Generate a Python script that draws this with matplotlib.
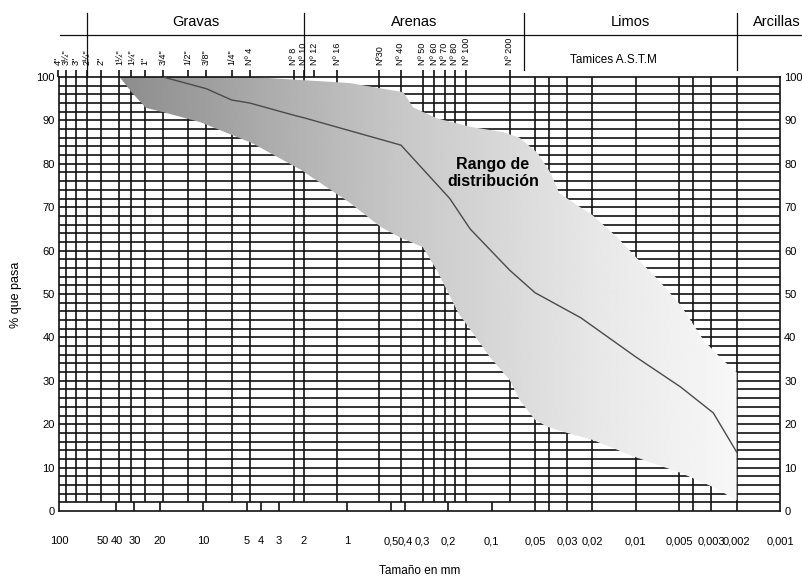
import numpy as np
import matplotlib
matplotlib.use('Agg')
import matplotlib.pyplot as plt
import matplotlib.transforms as mtransforms
from matplotlib.patches import Polygon
from matplotlib.lines import Line2D
from matplotlib.ticker import NullLocator

plt.rcParams['font.family'] = ['Liberation Sans', 'DejaVu Sans']
narrow = ['Liberation Sans Narrow', 'Liberation Sans', 'DejaVu Sans']

# ----------------------------- DATA -----------------------------

# ASTM sieves (mm) and their labels
sieve_mm = [101.6, 88.9, 76.2, 63.5, 50.8, 38.1, 31.75, 25.4, 19.05, 12.7, 9.525, 6.35,
            4.75, 2.36, 2.0, 1.7, 1.18, 0.6, 0.425, 0.3, 0.25, 0.212, 0.18, 0.15, 0.075]
sieve_lbl = ['4"', '3½"', '3"', '2½"', '2"', '1½"', '1¼"', '1"', '3/4"', '1/2"', '3/8"', '1/4"',
             'Nº 4', 'Nº 8', 'Nº 10', 'Nº 12', 'Nº 16', 'Nº30', 'Nº 40', 'Nº 50', 'Nº 60',
             'Nº 70', 'Nº 80', 'Nº 100', 'Nº 200']

# fine fraction grid lines (mm)
fine_mm = [0.05, 0.04, 0.03, 0.02, 0.01, 0.005, 0.004, 0.003, 0.002]

# short ticks in the bottom row (mm)
tick_mm = [40, 30, 20, 10, 5, 4, 3, 1, 0.5, 0.4, 0.2, 0.1]

# bottom axis labels (mm)
xlab_mm = [100, 50, 40, 30, 20, 10, 5, 4, 3, 2, 1, 0.5, 0.4, 0.3, 0.2, 0.1,
           0.05, 0.03, 0.02, 0.01, 0.005, 0.003, 0.002, 0.001]

# soil classes and their limits (mm)
class_names = ['Gravas', 'Arenas', 'Limos']
class_limits = [63.5, 2.0, 0.06, 0.002]

# distribution band, upper limit
upper_mm = [38, 4.6, 2.1, 0.96, 0.41, 0.35, 0.24, 0.14, 0.083, 0.064, 0.048, 0.039,
            0.034, 0.027, 0.020, 0.0135, 0.010, 0.0071, 0.0049, 0.0034, 0.0025, 0.002]
upper_pct = [100, 100, 99.3, 98.6, 96.5, 93, 90.5, 88.5, 87.3, 86, 82.5, 77.9,
             73.3, 71, 68.2, 63.1, 58.5, 53.5, 47.5, 39.4, 34.8, 32]

# distribution band, lower limit
lower_mm = [38, 31, 25, 18, 10.5, 4.6, 2.1, 0.96, 0.59, 0.43, 0.30, 0.24, 0.17, 0.135,
            0.103, 0.075, 0.064, 0.050, 0.041, 0.030, 0.020, 0.010, 0.0049, 0.0029, 0.002]
lower_pct = [100, 96.3, 92.9, 91.7, 89.6, 84.8, 78.6, 71, 65.5, 63, 60.8, 55.5, 45.6, 41,
             35.5, 30.2, 25.6, 21, 19.4, 18, 16.4, 12.4, 8.8, 5.5, 2.5]

# middle curve
center_mm = [19, 9.5, 6.35, 4.75, 2.24, 2.0, 0.425, 0.195, 0.141, 0.075, 0.050, 0.024,
             0.010, 0.0049, 0.0029, 0.002]
center_pct = [100, 97.3, 94.7, 94, 91, 90.6, 84.3, 72, 65, 55.5, 50.3, 44.5,
              35.5, 28.6, 22.6, 13.6]

# ----------------------------- FIGURE -----------------------------

W, H = 803, 579
def fx(px):
    return px / W
def fy(py):
    return 1 - py / H

fig = plt.figure(figsize=(8.03, 5.79), dpi=100)
ax = fig.add_axes([fx(59), fy(511), (780 - 59) / W, (511 - 77) / H])
ax.set_xscale('log')
ax.set_xlim(100, 0.001)
ax.set_ylim(0, 100)
ax.set_autoscale_on(False)

gc = '#111111'
glw = 1.2

# grid
ax.hlines(np.arange(2, 100, 2), 100, 0.001, color=gc, lw=glw, zorder=1)
ax.vlines([s for s, l in zip(sieve_mm, sieve_lbl) if l != 'Nº 12'], 2, 100, color=gc, lw=glw, zorder=1)
ax.vlines(sieve_mm, 100, 101.6, color=gc, lw=glw, zorder=1, clip_on=False)
ax.vlines(fine_mm, 0, 100, color=gc, lw=glw, zorder=1)
ax.vlines(tick_mm, 0, 2, color=gc, lw=glw, zorder=1)

# band with gradient
pts = list(zip(upper_mm, upper_pct)) + list(zip(lower_mm[::-1], lower_pct[::-1]))
poly = Polygon(pts, closed=True, facecolor='none', edgecolor='none', transform=ax.transData)
ax.add_patch(poly)
xs = np.linspace(0, 1, 400)
shade = np.interp(xs, [0.08, 0.2, 0.33, 0.47, 0.6, 0.75, 0.94],
                  [0.55, 0.62, 0.70, 0.78, 0.84, 0.91, 0.97])
img = ax.imshow(shade[None, :], cmap='gray', vmin=0, vmax=1, extent=[0, 1, 0, 1],
                transform=ax.transAxes, aspect='auto', interpolation='bilinear', zorder=2)
img.set_clip_path(poly)
ax.set_xlim(100, 0.001)
ax.set_ylim(0, 100)

ax.plot(center_mm, center_pct, color='#4a4a4a', lw=1.0, zorder=3)

# axes / ticks
for s in ax.spines.values():
    s.set_color(gc)
    s.set_linewidth(glw)
ax.xaxis.set_minor_locator(NullLocator())
ax.set_xticks(xlab_mm)
ax.set_xticklabels([f"{v:g}".replace('.', ',') for v in xlab_mm])
ax.tick_params(axis='x', which='both', length=0, pad=18, labelsize=8)
ax.set_yticks(np.arange(0, 101, 10))
ax.tick_params(axis='y', length=0, pad=3, labelsize=8, labelright=True)
for t in ax.get_xticklabels() + ax.get_yticklabels():
    t.set_fontfamily(narrow)

fig.text(fx(16), fy(295), '% que pasa', rotation=90, ha='center', va='center', fontsize=9)
fig.text(fx(420), fy(571), 'Tamaño en mm', ha='center', va='center', fontsize=8.5)

fig.text(fx(493), fy(173), 'Rango de\ndistribución', ha='center', va='center',
         fontsize=11.5, fontweight='bold', linespacing=1.25)

# header
bt = mtransforms.blended_transform_factory(ax.transData, fig.transFigure)
fig.add_artist(Line2D([fx(60), 1.0], [fy(35), fy(35)], transform=fig.transFigure, color=gc, lw=0.9))
for i, lim in enumerate(class_limits):
    ybot = fy(77) if i < 2 else fy(70)
    fig.add_artist(Line2D([lim, lim], [fy(13), ybot], transform=bt, color=gc, lw=0.9))
for i, name in enumerate(class_names):
    xm = np.sqrt(class_limits[i] * class_limits[i + 1])
    fig.text(xm, fy(22), name, transform=bt, ha='center', va='center', fontsize=10.5)
fig.text(fx(777), fy(22), 'Arcillas', ha='center', va='center', fontsize=10.5)
fig.text(fx(613), fy(60), 'Tamices A.S.T.M', ha='center', va='center', fontsize=8.5)

for s, l in zip(sieve_mm, sieve_lbl):
    fig.text(s, fy(65), l, transform=bt, rotation=90, ha='center', va='bottom',
             fontsize=6.5, family=narrow)

fig.savefig('out.png', dpi=100)
